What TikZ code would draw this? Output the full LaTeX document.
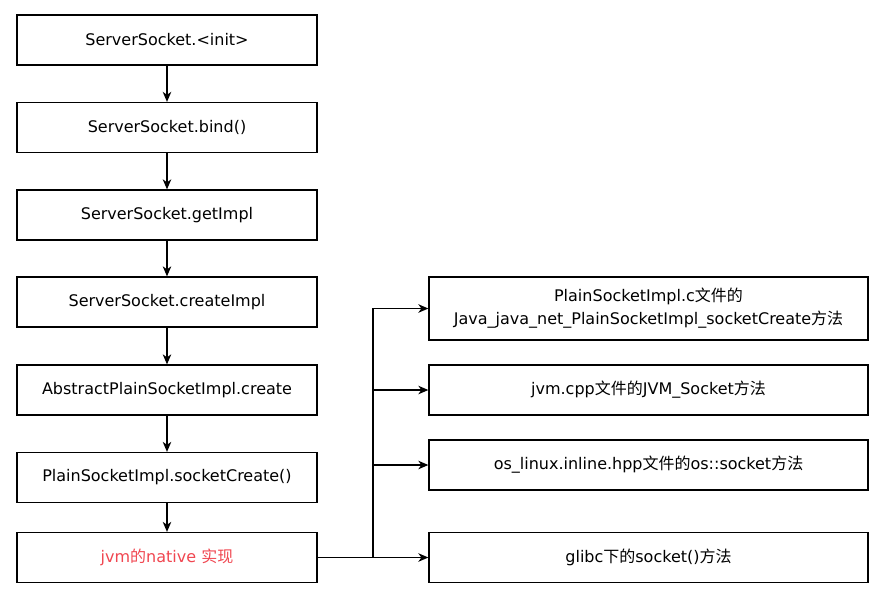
\documentclass[tikz,border=0pt]{standalone}
\usepackage{fontspec}
\setmainfont{DejaVu Sans}
\newfontfamily\cjk{Noto Sans CJK SC}
\usetikzlibrary{arrows.meta}
\definecolor{redtxt}{RGB}{240,70,80}
\tikzset{
  box/.style={draw, line width=1.3pt, minimum height=50pt, inner sep=0pt, align=center, font=\fontsize{16}{23}\selectfont},
  lbox/.style={box, minimum width=300pt},
  rbox/.style={box, minimum width=439pt},
  arr/.style={line width=1.3pt, -{Stealth[length=10pt,width=8.5pt,inset=3pt]}}
}
\begin{document}
\begin{tikzpicture}[x=1pt,y=-1pt]
\useasboundingbox (0,0) rectangle (893,606);
\node[lbox] (b1) at (167,40) {ServerSocket.<init>};
\node[lbox] (b2) at (167,127.5) {ServerSocket.bind()};
\node[lbox] (b3) at (167,215) {ServerSocket.getImpl};
\node[lbox] (b4) at (167,302) {ServerSocket.createImpl};
\node[lbox] (b5) at (167,390) {AbstractPlainSocketImpl.create};
\node[lbox] (b6) at (167,477.5) {PlainSocketImpl.socketCreate()};
\node[lbox, text=redtxt] (b7) at (167,557.5) {jvm{\cjk 的}native {\cjk 实现}};
\node[rbox, minimum height=63pt] (r1) at (648.5,308.5) {PlainSocketImpl.c{\cjk 文件的}\\Java\_java\_net\_PlainSocketImpl\_socketCreate{\cjk 方法}};
\node[rbox] (r2) at (648.5,390) {jvm.cpp{\cjk 文件的}JVM\_Socket{\cjk 方法}};
\node[rbox] (r3) at (648.5,465) {os\_linux.inline.hpp{\cjk 文件的}os::socket{\cjk 方法}};
\node[rbox] (r4) at (648.5,557.5) {glibc{\cjk 下的}socket(){\cjk 方法}};
\coordinate (j) at (373,557.5);
\draw[arr] (b1) -- (b2);
\draw[arr] (b2) -- (b3);
\draw[arr] (b3) -- (b4);
\draw[arr] (b4) -- (b5);
\draw[arr] (b5) -- (b6);
\draw[arr] (b6) -- (b7);
\draw[arr] (b7) -- (r4);
\draw[arr] (j) |- (r1);
\draw[arr] (j |- r2) -- (r2);
\draw[arr] (j |- r3) -- (r3);
\end{tikzpicture}
\end{document}
